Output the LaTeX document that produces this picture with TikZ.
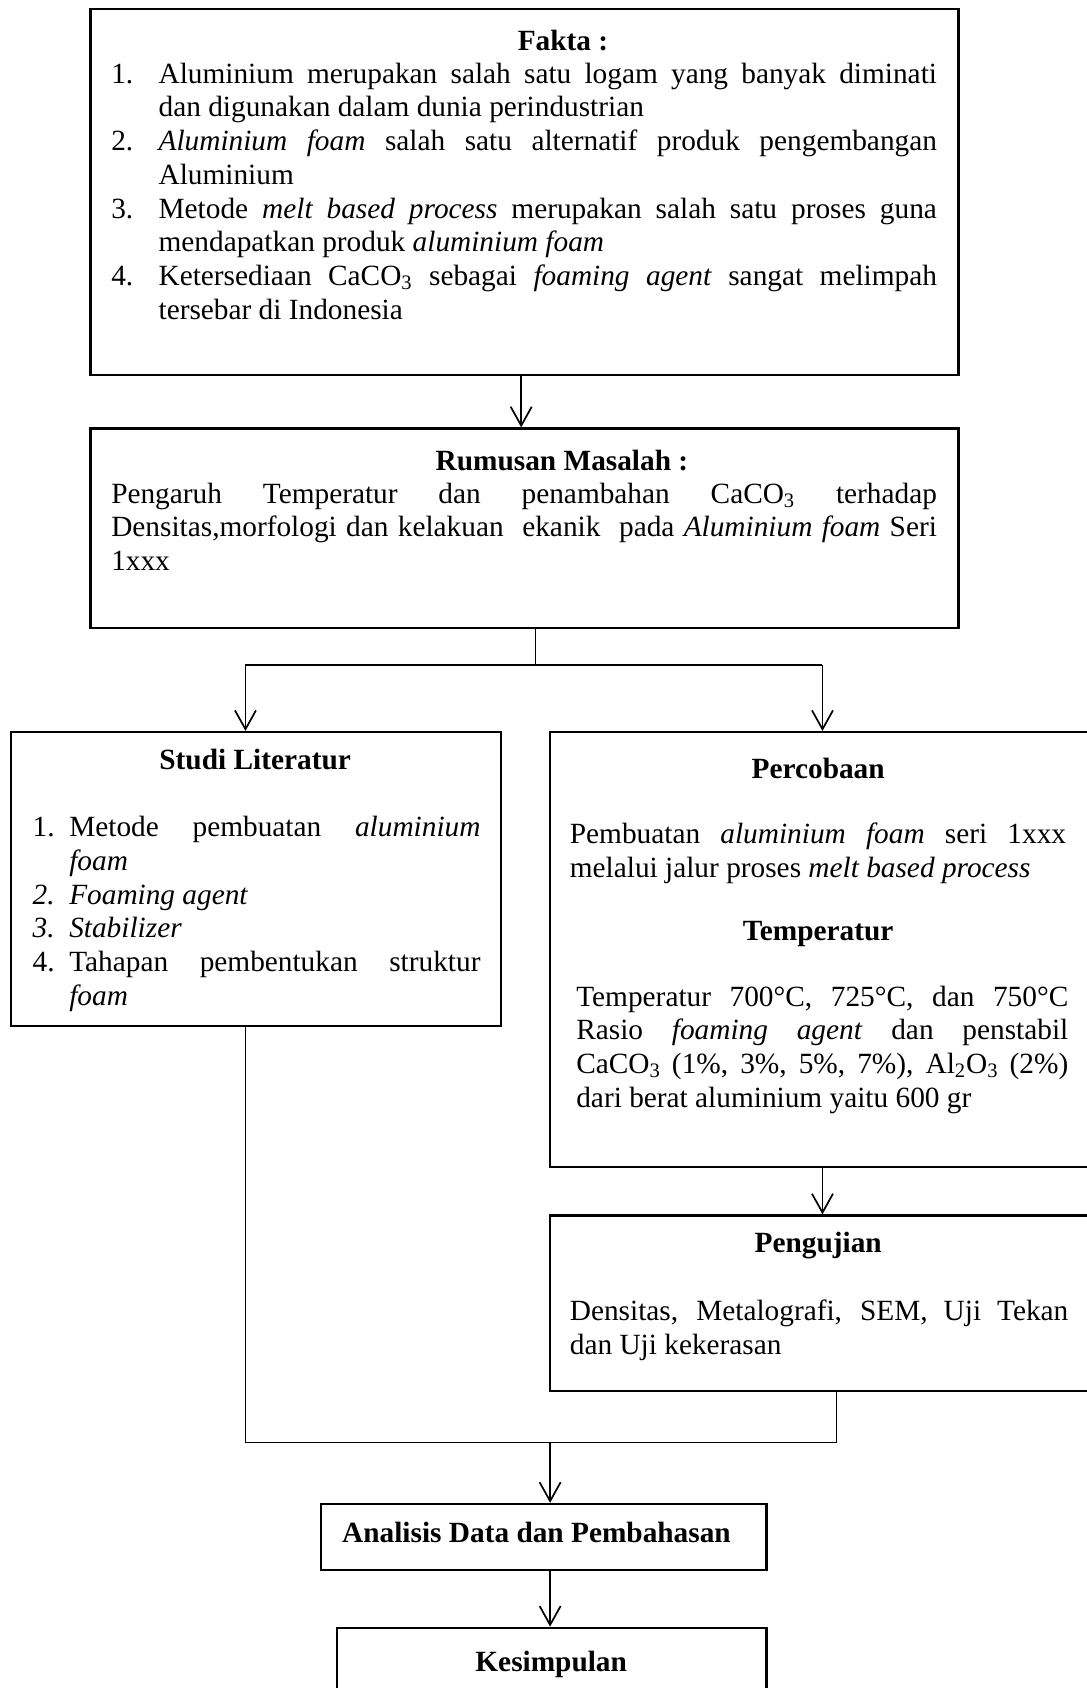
\documentclass[tikz,border=0pt]{standalone}
\usepackage{fontspec}
\setmainfont{Liberation Serif}
\usetikzlibrary{arrows.meta}
\tolerance=10000
\hbadness=10000
\newcommand{\butir}[3][8.8mm]{\hangindent=#1\hangafter=1\noindent\hbox to #1{#2\hfil}#3\par}

\begin{document}
\begin{tikzpicture}[x=0.2mm, y=-0.2mm,
  font=\fontsize{15.5pt}{17.8pt}\selectfont,
  kotak/.style={draw, line width=1.3pt, anchor=north west, inner sep=0pt},
  judul/.style={font=\fontsize{15.5pt}{17.8pt}\selectfont\bfseries, anchor=base, inner sep=0pt},
  isi/.style={anchor=base west, inner sep=0pt, align=justify},
  panah/.style={-{Straight Barb[length=3.5mm,width=3.9mm]}, line width=0.9pt},
  garis/.style={line width=0.5pt}]
  \useasboundingbox (0,0) rectangle (1009,1568);

  \node[kotak, minimum width=161.2mm, minimum height=68mm] (fakta) at (83,7) {};
  \node[kotak, minimum width=161.2mm, minimum height=37mm] (rumusan) at (83,397) {};
  \node[kotak, minimum width=91mm, minimum height=54.6mm] (studi) at (9,679) {};
  \node[kotak, minimum width=101mm, minimum height=80.8mm] (percobaan) at (510,679) {};
  \node[kotak, minimum width=101mm, minimum height=32.6mm] (pengujian) at (510,1128) {};
  \node[kotak, minimum width=82.8mm, minimum height=12.2mm] (analisis) at (297,1396) {};
  \node[kotak, minimum width=79.8mm, minimum height=21.8mm] (kesimpulan) at (312,1511) {};

  \node[judul] (faktaJ) at (523,46.5) {Fakta :};
  \node[isi, text width=153.4mm] (faktaT) at (103,77.4) {%
    \butir{1.}{Aluminium merupakan salah satu logam yang banyak diminati\linebreak dan digunakan dalam dunia perindustrian}%
    \butir{2.}{\textit{Aluminium foam} salah satu alternatif produk pengembangan\linebreak Aluminium}%
    \butir{3.}{Metode \textit{melt based process} merupakan salah satu proses guna\linebreak mendapatkan produk \textit{aluminium foam}}%
    \butir{4.}{Ketersediaan CaCO\textsubscript{3} sebagai \textit{foaming agent} sangat melimpah\linebreak tersebar di Indonesia}};

  \node[judul] (rumusanJ) at (522,437.5) {Rumusan Masalah :};
  \node[isi, text width=153.4mm] (rumusanT) at (103,467.5) {Pengaruh Temperatur dan penambahan CaCO\textsubscript{3} terhadap\linebreak Densitas,morfologi dan kelakuan\ \ ekanik\ \ pada \textit{Aluminium foam} Seri\linebreak 1xxx};

  \node[judul] (studiJ) at (237,714.5) {Studi Literatur};
  \node[isi, text width=83.2mm] (studiT) at (30,777.4) {%
    \butir[6.8mm]{1.}{Metode pembuatan \textit{aluminium}\linebreak \textit{foam}}%
    \butir[6.8mm]{\textit{2.}}{\textit{Foaming agent}}%
    \butir[6.8mm]{\textit{3.}}{\textit{Stabilizer}}%
    \butir[6.8mm]{4.}{Tahapan pembentukan struktur\linebreak \textit{foam}}};

  \node[judul] (percobaanJ) at (760,723.5) {Percobaan};
  \node[isi, text width=92.2mm] (percobaanT) at (529,783.5) {Pembuatan \textit{aluminium foam} seri 1xxx\linebreak melalui jalur proses \textit{melt based process}};
  \node[judul] (temperaturJ) at (760,873.4) {Temperatur};
  \node[isi, text width=91.4mm] (temperaturT) at (535,934.5) {Temperatur 700°C, 725°C, dan 750°C\linebreak Rasio \textit{foaming agent} dan penstabil\linebreak CaCO\textsubscript{3} (1\%, 3\%, 5\%, 7\%), Al\textsubscript{2}O\textsubscript{3} (2\%)\linebreak dari berat aluminium yaitu 600 gr};

  \node[judul] (pengujianJ) at (760,1163.5) {Pengujian};
  \node[isi, text width=92.6mm] (pengujianT) at (529,1226.5) {Densitas, Metalografi, SEM, Uji Tekan\linebreak dan Uji kekerasan};

  \node[judul, anchor=base west] (analisisJ) at (317.5,1432.5) {Analisis Data dan Pembahasan};
  \node[judul] (kesimpulanJ) at (512,1553) {Kesimpulan};

  \coordinate (cabang) at (497,618);
  \coordinate (kiri) at (228,618);
  \coordinate (kanan) at (764,618);
  \coordinate (bawahkiri) at (228,1340);
  \coordinate (bawahkanan) at (777,1340);
  \coordinate (gabung) at (511,1340);

  \draw[panah] ([xshift=-0.6mm]fakta.south) -- ([xshift=-0.6mm]rumusan.north);
  \draw[garis] (cabang |- rumusan.south) -- (cabang);
  \draw[line width=0.9pt] (kiri) -- (kanan);
  \draw[panah] (kiri) -- (kiri |- studi.north);
  \draw[panah] (kanan) -- (kanan |- percobaan.north);
  \draw[panah] (kanan |- percobaan.south) -- (kanan |- pengujian.north);
  \draw[garis] (bawahkiri |- studi.south) -- (bawahkiri) -- (bawahkanan) -- (bawahkanan |- pengujian.south);
  \draw[panah] (gabung) -- (gabung |- analisis.north);
  \draw[panah] (gabung |- analisis.south) -- (gabung |- kesimpulan.north);
\end{tikzpicture}
\end{document}
